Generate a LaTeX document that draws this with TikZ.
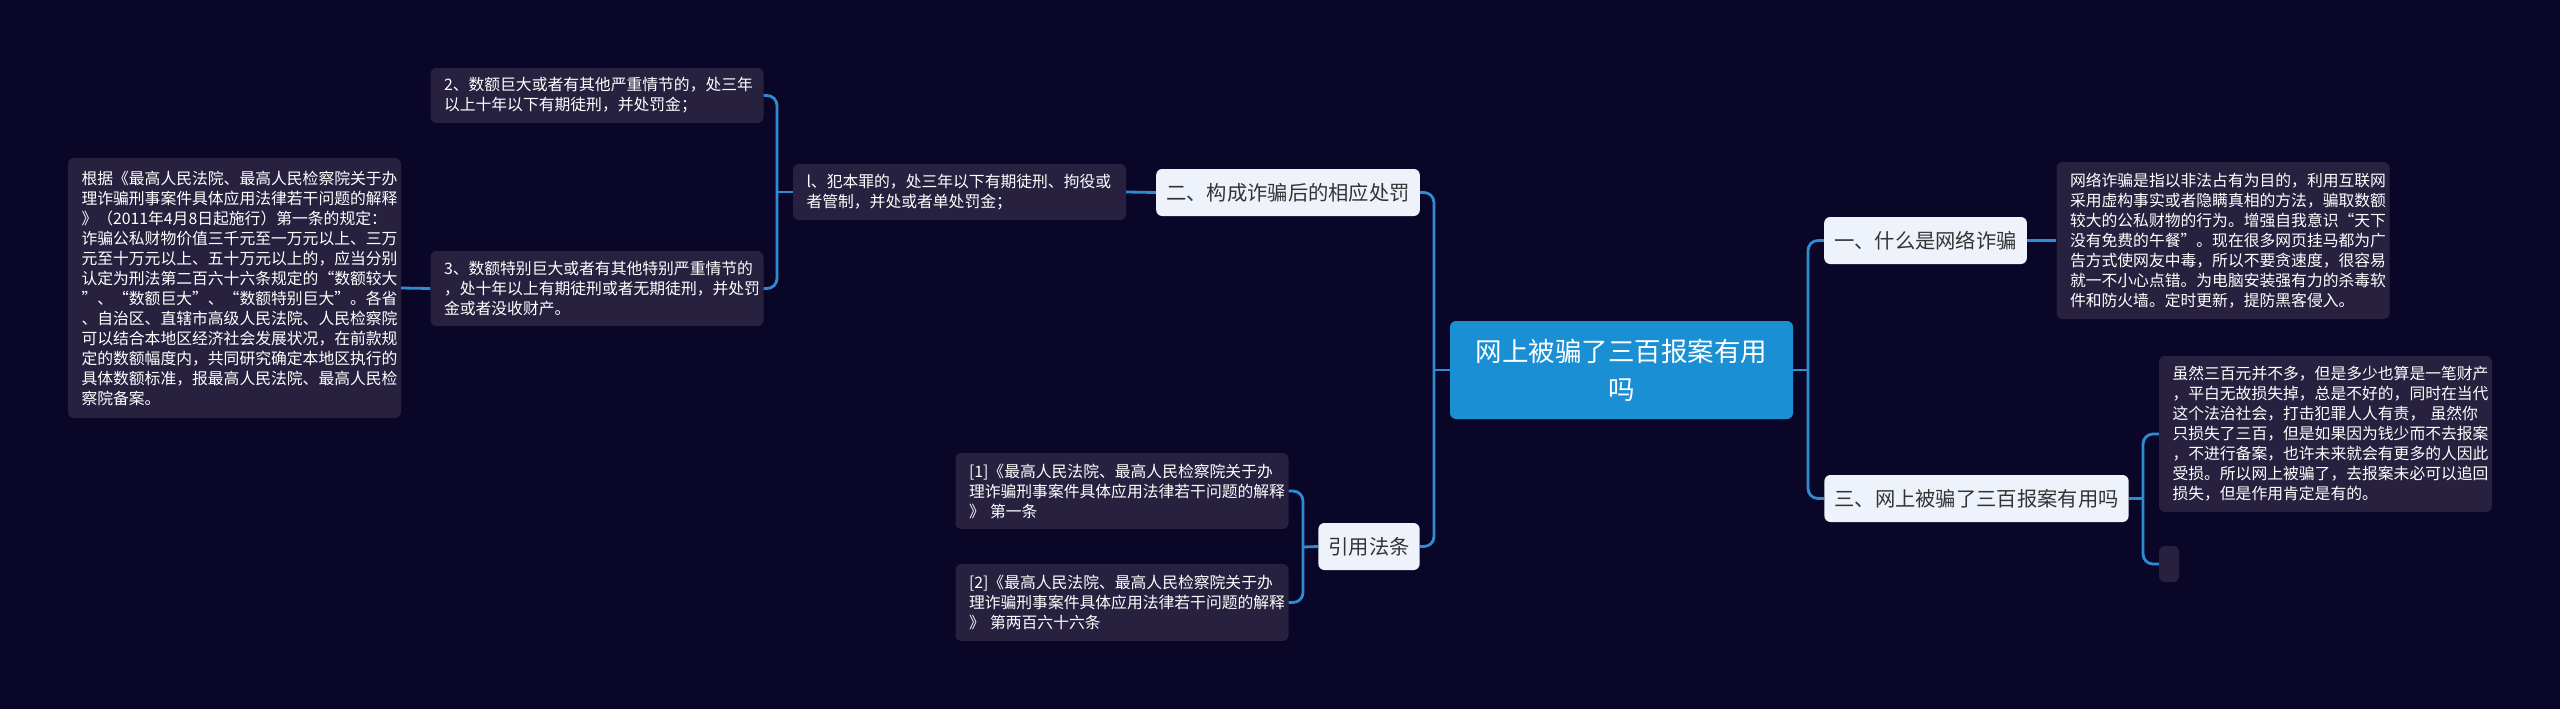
\documentclass[tikz,border=0pt]{standalone}
\usepackage{fontspec}
\newfontfamily\cjk{Noto Sans CJK SC}
\definecolor{bgc}{HTML}{0A0628}
\definecolor{leafc}{HTML}{27213F}
\definecolor{topc}{HTML}{EEF3FB}
\definecolor{rootc}{HTML}{1A8FD3}
\definecolor{linec}{HTML}{2D8CD2}
\definecolor{txtc}{HTML}{333333}
\tikzset{
  leaf/.style ={fill=leafc,rounded corners=6pt,text=white,align=left,text width=306pt,
                inner xsep=13.5pt,inner ysep=4pt,font=\cjk\fontsize{15.8}{20}\selectfont},
  topic/.style={fill=topc,rounded corners=6pt,text=txtc,inner xsep=10pt,minimum height=47pt,
                font=\cjk\fontsize{20.3}{24}\selectfont},
  root/.style ={fill=rootc,rounded corners=6pt,text=white,align=center,minimum width=343pt,
                minimum height=98pt,font=\cjk\fontsize{26.5}{38}\selectfont},
  link/.style ={draw=linec,line width=2.8pt,rounded corners=10pt},
}

\begin{document}
\begin{tikzpicture}[x=1pt,y=-1pt]

\fill[bgc] (0,0) rectangle (2560,709);

% ===================== CENTRO =======================================
\node[root] (root) at (1621.5,370) {网上被骗了三百报案有用\\吗};

% ===================== LADO ESQUERDO ================================
\node[topic] (sec2) at (1288,192.5) {二、构成诈骗后的相应处罚};
\node[topic] (cite) at (1369,546.5) {引用法条};

\node[leaf,minimum height=56pt] (p1) at (959.5,192)
  {l、犯本罪的，处三年以下有期徒刑、拘役或\\者管制，并处或者单处罚金；};
\node[leaf,minimum height=55pt] (p2) at (597,95.5)
  {2、数额巨大或者有其他严重情节的，处三年\\以上十年以下有期徒刑，并处罚金；};
\node[leaf,minimum height=75pt] (p3) at (597,288.5)
  {3、数额特别巨大或者有其他特别严重情节的\\，处十年以上有期徒刑或者无期徒刑，并处罚\\金或者没收财产。};
\node[leaf,minimum height=260pt] (rule) at (234.5,288)
  {根据《最高人民法院、最高人民检察院关于办\\理诈骗刑事案件具体应用法律若干问题的解释\\》（2011年4月8日起施行）第一条的规定：\\诈骗公私财物价值三千元至一万元以上、三万\\元至十万元以上、五十万元以上的，应当分别\\认定为刑法第二百六十六条规定的“数额较大\\”、“数额巨大”、“数额特别巨大”。各省\\、自治区、直辖市高级人民法院、人民检察院\\可以结合本地区经济社会发展状况，在前款规\\定的数额幅度内，共同研究确定本地区执行的\\具体数额标准，报最高人民法院、最高人民检\\察院备案。};

\node[leaf,minimum height=76pt] (c1) at (1122,491)
  {[1]《最高人民法院、最高人民检察院关于办\\理诈骗刑事案件具体应用法律若干问题的解释\\》 第一条};
\node[leaf,minimum height=77pt] (c2) at (1122,602.5)
  {[2]《最高人民法院、最高人民检察院关于办\\理诈骗刑事案件具体应用法律若干问题的解释\\》 第两百六十六条};

% ===================== LADO DIREITO =================================
\node[topic] (sec1) at (1925.5,240.5) {一、什么是网络诈骗};
\node[topic] (sec3) at (1976.5,498.5) {三、网上被骗了三百报案有用吗};

\node[leaf,minimum height=157pt] (def) at (2223,240.5)
  {网络诈骗是指以非法占有为目的，利用互联网\\采用虚构事实或者隐瞒真相的方法，骗取数额\\较大的公私财物的行为。增强自我意识“天下\\没有免费的午餐”。现在很多网页挂马都为广\\告方式使网友中毒，所以不要贪速度，很容易\\就一不小心点错。为电脑安装强有力的杀毒软\\件和防火墙。定时更新，提防黑客侵入。};
\node[leaf,minimum height=156pt] (ans) at (2325.5,434)
  {虽然三百元并不多，但是多少也算是一笔财产\\，平白无故损失掉，总是不好的，同时在当代\\这个法治社会，打击犯罪人人有责， 虽然你\\只损失了三百，但是如果因为钱少而不去报案\\，不进行备案，也许未来就会有更多的人因此\\受损。所以网上被骗了，去报案未必可以追回\\损失，但是作用肯定是有的。};
\node[leaf,text width=0pt,inner xsep=10pt,minimum height=36pt] (blank) at (2169,564) {};

% ===================== LIGACOES =====================================
\coordinate (jL) at (1434,370);
\coordinate (jR) at (1808,370);
\coordinate (j1) at (777,192);
\coordinate (jC) at (1303,547);
\coordinate (jS) at (2143,498.5);

\draw[link] (sec2.east) -| (jL);
\draw[link] (cite.east) -| (jL);
\draw[link] (jL) -- (root.west);

\draw[link] (p1.east) -- (sec2.west);
\draw[link] (p2.east) -| (j1);
\draw[link] (p3.east) -| (j1);
\draw[link] (j1) -- (p1.west);
\draw[link] (rule.east) -- (p3.west);

\draw[link] (c1.east) -| (jC);
\draw[link] (c2.east) -| (jC);
\draw[link] (jC) -- (cite.west);

\draw[link] (root.east) -- (jR);
\draw[link] (jR) |- (sec1.west);
\draw[link] (jR) |- (sec3.west);
\draw[link] (sec1.east) -- (def.west);

\draw[link] (sec3.east) -- (jS);
\draw[link] (jS) |- (ans.west);
\draw[link] (jS) |- (blank.west);

\end{tikzpicture}
\end{document}
